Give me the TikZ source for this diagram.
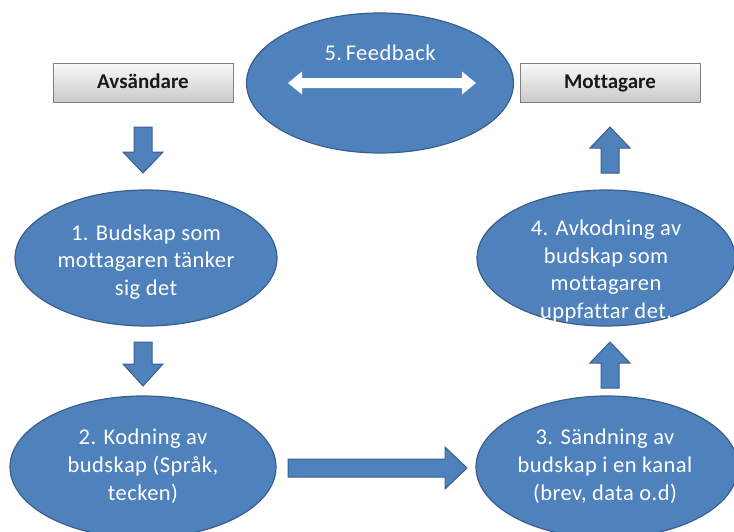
\documentclass[tikz,border=0pt]{standalone}
\usepackage{fontspec}
\setmainfont{Carlito}[Ligatures={NoCommon}]
\usetikzlibrary{shapes.geometric}
\definecolor{obfill}{HTML}{4F81BD}
\definecolor{obline}{HTML}{3A5F8C}
\definecolor{boxline}{HTML}{808080}
\tikzset{
  oval/.style={ellipse, fill=obfill, draw=obline, line width=1.2pt, inner sep=0pt},
  ovaltext/.style={text=white, align=center, font=\fontsize{22.5}{27.8}\selectfont\addfontfeature{LetterSpace=2}, inner sep=0pt},
  rolebox/.style={rectangle, draw=boxline, line width=0.9pt, top color=white!96!gray, bottom color=gray!42,
     minimum width=180pt, minimum height=39pt, inner sep=0pt, text height=14pt, text depth=2pt,
     font=\bfseries\fontsize{21}{24}\selectfont, text=black!90},
  blockarrow/.style={fill=obfill, draw=obline, line width=1pt, line join=miter},
  fbarrow/.style={fill=white, draw=none}
}
\begin{document}
\begin{tikzpicture}[x=1pt,y=-1pt]
\useasboundingbox (0,0) rectangle (734,531);
\clip (0,0) rectangle (734,531);
% boxes
\node[rolebox] (avs) at (143,82.5) {Avsändare};
\node[rolebox] (mot) at (610,82.5) {Mottagare};
% feedback ellipse
\node[oval, minimum width=267pt, minimum height=140pt] (fb) at (380,83) {};
\node[ovaltext] (fbt) at (380,53) {5.\,Feedback};
\fill[fbarrow] (288,83)--(302,71.5)--(302,78)--(462,78)--(462,71.5)--(476,83)--(462,94.5)--(462,88)--(302,88)--(302,94.5)--cycle;
% ellipse 1
\node[oval, minimum width=262pt, minimum height=136pt] (e1) at (146,258) {};
\node[ovaltext] (e1t) at (146,262) {1. Budskap som\\mottagaren tänker\\sig det};
% ellipse 2
\node[oval, minimum width=266pt, minimum height=142pt] (e2) at (143,467) {};
\node[ovaltext] (e2t) at (143,466) {2. Kodning av\\budskap (Språk,\\tecken)};
% ellipse 3
\node[oval, minimum width=262pt, minimum height=142pt] (e3) at (607,467) {};
\node[ovaltext] (e3t) at (605,466) {3. Sändning av\\budskap i en kanal\\(brev, data o.d)};
% ellipse 4
\node[oval, minimum width=258pt, minimum height=136pt] (e4) at (606,258) {};
\node[ovaltext] (e4t) at (606,271) {4. Avkodning av\\budskap som\\mottagaren\\uppfattar det.};
% block arrows
\draw[blockarrow] (134,127)--(152,127)--(152,152)--(163,152)--(143,173)--(123,152)--(134,152)--cycle;
\draw[blockarrow] (134,342)--(152,342)--(152,364)--(163,364)--(143,386)--(123,364)--(134,364)--cycle;
\draw[blockarrow] (288,459)--(445,459)--(445,447)--(467,468)--(445,489)--(445,477)--(288,477)--cycle;
\draw[blockarrow] (590,363)--(610,342)--(630,363)--(619,363)--(619,388)--(601,388)--(601,363)--cycle;
\draw[blockarrow] (590,148)--(610,127)--(630,148)--(619,148)--(619,173)--(601,173)--(601,148)--cycle;
\end{tikzpicture}
\end{document}
